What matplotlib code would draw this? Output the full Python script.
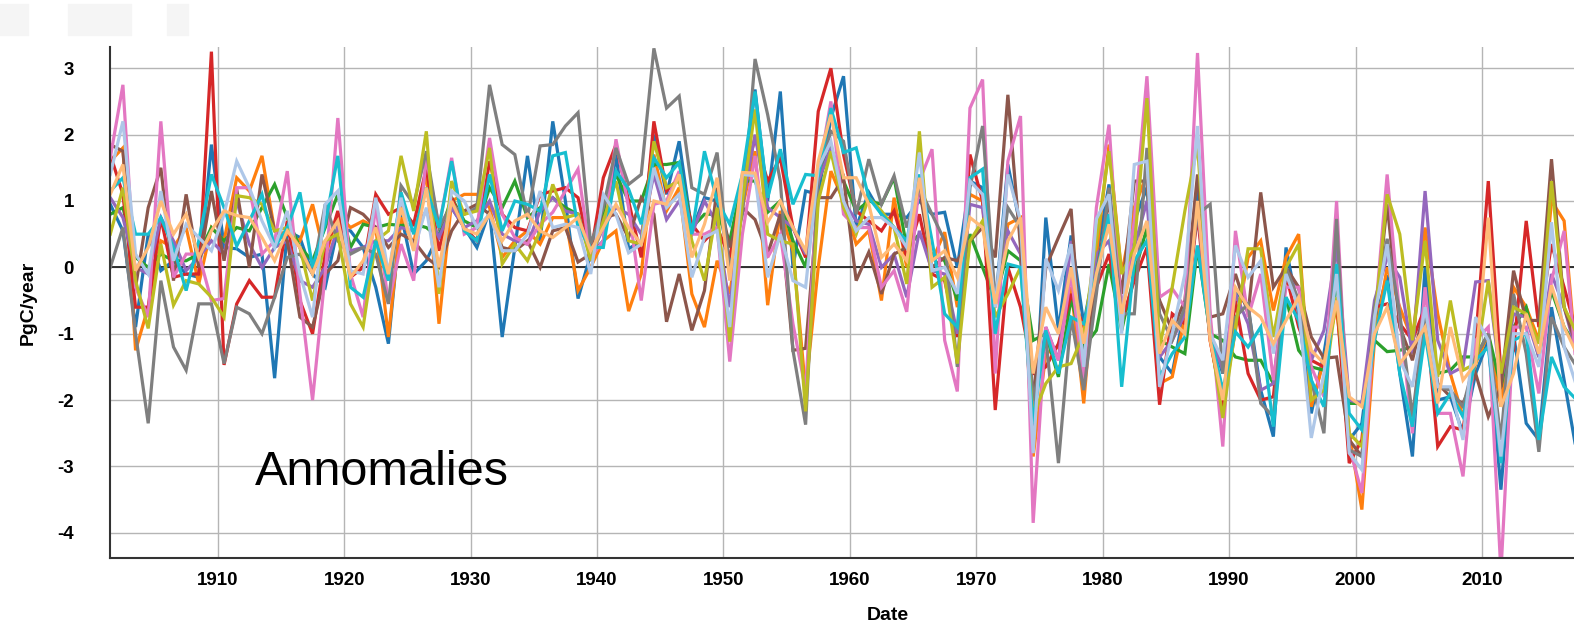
import matplotlib
matplotlib.use('Agg')
import matplotlib.pyplot as plt
from matplotlib.patches import Rectangle
import numpy as np

# Yearly carbon flux anomalies (PgC/year), one list per model, 1901-2017
years = np.arange(1901, 2018)

blue = [0.95, 0.55, -0.9, 0.5, -0.05, 0.1, -0.1, -0.15, 1.85, 0.3,
        0.28, 0.15, 0.2, -1.67, 0.55, 0.45, -0.1, -0.3, 0.6, 0.55,
        0.3, -0.3, -1.15, 0.8, -0.1, 0.1, 0.5, 0.9, 0.6, 0.3,
        0.85, -1.05, 0.3, 1.68, 0.4, 2.2, 1.0, -0.47, 0.2, 0.4,
        1.7, 0.28, 0.4, 2.0, 1.1, 1.9, 0.55, 1.05, 1.0, 0.1,
        1.1, 2.68, 1.0, 2.65, 0.0, 1.15, 1.1, 2.25, 2.88, 0.6,
        1.13, 0.8, 0.8, 0.75, 1.0, 0.8, 0.83, 0.0, 1.3, 1.2,
        -0.6, 1.55, 0.6, -2.7, 0.75, -0.95, 0.48, -0.85, 0.15, 1.25,
        -0.8, 0.7, 1.2, -1.35, -1.6, -0.6, 1.15, -1.0, -1.6, -0.35,
        -0.6, -1.85, -2.55, 0.3, -0.7, -2.2, -1.3, -0.1, -2.6, -2.35,
        -0.85, -0.12, -1.6, -2.85, 0.0, -2.0, -1.95, -2.5, -1.6, -1.1,
        -3.35, -1.0, -2.35, -2.6, -0.6, -1.7, -2.8]

orange = [1.6, 1.8, -1.25, -0.6, 0.4, 0.3, 0.6, -0.25, 0.6, 0.4,
          1.35, 1.15, 1.68, 0.55, 0.5, 0.4, 0.95, 0.15, 0.8, 0.6,
          0.7, 0.6, -1.05, 0.75, 0.35, 1.45, -0.85, 1.0, 1.1, 1.1,
          0.9, 0.15, 0.4, 0.55, 0.35, 0.75, 0.75, -0.35, 0.0, 0.4,
          0.55, -0.66, -0.1, 1.7, 0.85, 1.2, -0.4, -0.9, 0.1, -0.4,
          0.9, 1.75, -0.57, 0.85, 0.25, -1.85, 0.0, 1.45, 1.0, 0.35,
          0.55, -0.5, 1.05, 0.0, 1.3, 0.1, 0.53, -0.6, 1.1, 1.0,
          -0.6, 0.65, 0.75, -2.85, -1.3, -1.2, -0.3, -2.05, 0.2, 1.85,
          -0.1, 0.9, 1.4, -1.75, -1.65, -0.75, 1.0, -1.1, -2.1, -0.95,
          0.15, 0.4, -0.65, 0.15, 0.5, -2.1, -1.4, -0.6, -2.5, -3.65,
          -1.1, 0.0, -0.6, -1.1, 0.6, -0.7, -1.6, -2.25, -1.45, -1.0,
          -2.1, -0.3, -0.6, -1.1, 1.0, 0.7, -1.5]

green = [0.8, 0.9, 0.15, 0.0, 0.2, 0.1, 0.1, 0.2, 0.6, 0.4,
         0.6, 0.55, 0.9, 1.25, 0.75, 0.3, 0.1, 0.6, 1.1, 0.3,
         0.65, 0.6, 0.65, 0.63, 0.65, 0.6, 0.45, 1.05, 0.7, 0.6,
         1.2, 0.9, 1.3, 0.75, 0.9, 1.05, 0.9, 0.8, 0.2, 0.8,
         1.4, 1.0, 1.0, 1.55, 1.55, 1.58, 0.6, 0.8, 0.8, 0.4,
         1.3, 1.3, 0.83, 1.0, 0.4, 0.0, 1.3, 1.8, 1.3, 0.85,
         1.0, 0.95, 1.35, 0.3, 0.5, 0.2, 0.1, -0.5, 0.5, 0.0,
         -0.5, 0.25, 0.1, -1.1, -1.0, -1.65, -0.47, -1.2, -0.95, 0.05,
         -0.95, -0.1, 0.6, -1.1, -1.2, -1.3, 0.3, -1.0, -1.1, -1.35,
         -1.4, -1.4, -1.75, -0.45, -1.25, -1.5, -1.55, -0.2, -2.05, -2.05,
         -1.1, -1.27, -1.25, -1.2, -1.0, -1.6, -1.55, -1.35, -1.35, -1.0,
         -1.8, -0.9, -0.6, -1.35, -0.35, -0.9, -1.2]

red = [1.7, 1.1, -0.6, -0.6, 0.75, -0.15, -0.1, -0.1, 3.25, -1.47,
       -0.55, -0.2, -0.45, -0.45, 0.7, -0.5, -1.0, 0.2, 0.85, -0.15,
       0.0, 1.1, 0.8, 0.9, 0.65, 1.5, 0.25, 1.05, 0.6, 0.4,
       1.6, 0.8, 0.6, 0.55, 1.1, 1.15, 1.2, 1.05, 0.2, 1.35,
       1.85, 1.0, 0.15, 2.2, 1.15, 1.35, 0.65, 0.4, 0.6, 0.15,
       1.2, 1.95, 1.3, 1.65, 0.6, 0.15, 2.35, 3.0, 1.7, 0.85,
       0.7, 0.55, 0.85, 0.15, 0.8, -0.1, -0.2, -1.05, 1.7, 1.0,
       -2.15, 0.0, -0.6, -1.6, -1.5, -1.15, -0.4, -0.9, -0.3, 0.2,
       -0.8, -0.2, 0.3, -2.07, -0.7, -0.85, 0.8, -1.1, -2.1, -0.5,
       -1.6, -2.0, -1.95, -0.1, -0.9, -1.4, -1.5, -0.5, -2.95, -2.6,
       -0.6, -0.55, -0.85, -1.1, -0.6, -2.7, -2.4, -2.45, -1.1, 1.3,
       -1.6, -1.25, 0.7, -0.9, 0.35, -0.3, -1.0]

purple = [1.05, 0.75, 0.0, -0.1, 0.75, 0.4, -0.05, 0.15, 0.4, 0.2,
          1.0, 0.35, 0.0, 0.3, 0.4, -0.2, -0.3, 0.0, 0.6, 0.25,
          0.3, 0.4, 0.4, 0.6, 0.55, 0.85, 0.45, 0.9, 0.6, 0.7,
          1.0, 0.5, 0.4, 0.35, 0.85, 1.05, 0.85, 0.8, 0.15, 0.6,
          0.9, 0.8, 0.5, 1.4, 0.72, 1.0, 0.5, 1.0, 0.65, -0.6,
          0.95, 2.0, 0.9, 0.75, 0.6, 0.2, 1.3, 1.8, 1.0, 0.7,
          0.65, 0.0, 0.2, -0.45, 0.55, -0.05, -0.1, -1.0, 0.95, 0.9,
          -0.5, 0.55, 0.2, -2.2, -0.9, -1.4, 0.4, -1.5, 0.2, 0.4,
          -0.6, 0.3, 1.0, -1.35, -1.1, -0.7, 0.9, -1.0, -1.55, -0.4,
          -0.85, -1.85, -1.75, -0.05, -0.3, -1.4, -0.95, 0.3, -2.0, -2.05,
          -0.5, 0.15, -0.15, -1.3, 1.15, -1.1, -1.6, -1.5, -0.22, -0.2,
          -1.75, -0.7, -0.75, -1.35, -0.1, -0.6, -1.3]

brown = [1.85, 1.75, -0.3, 0.9, 1.5, -0.2, 1.1, 0.0, 1.15, 0.1,
         1.18, 0.0, 1.4, 0.55, 0.4, -0.75, -0.9, -0.1, 0.1, 0.9,
         0.8, 0.6, 0.3, 0.5, 0.4, 0.15, 0.0, 0.55, 0.85, 0.95,
         0.8, 0.3, 0.25, 0.4, 0.0, 0.55, 0.6, 0.08, 0.2, 0.75,
         0.8, 0.45, 1.05, 0.8, -0.82, -0.1, -0.95, -0.35, 1.2, 0.3,
         0.9, 0.72, 0.2, 0.8, -1.25, -1.22, 1.05, 1.05, 1.35, -0.2,
         0.23, -0.4, 0.2, 0.3, 1.2, 0.0, 0.15, 0.1, 0.4, 0.6,
         0.15, 2.6, 0.3, -2.0, 0.0, 0.45, 0.88, -1.8, -0.1, 1.0,
         -0.4, 1.3, 1.3, -0.5, -0.95, -0.5, 1.4, -0.75, -0.7, -0.1,
         -0.7, 1.13, -0.3, 0.0, -0.3, -1.05, -1.37, -1.35, -2.6, -2.85,
         -0.85, 0.95, -0.9, -1.4, -0.6, -1.75, -1.95, -2.05, -1.6, -2.25,
         -1.8, -0.05, -0.8, -0.8, 1.63, -0.6, -1.2]

pink = [1.65, 2.75, -0.3, -0.75, 2.2, -0.15, 0.2, 0.2, -0.5, -0.47,
        1.2, 1.2, 0.2, 0.4, 1.45, -0.4, -2.0, -0.1, 2.25, -0.1,
        -0.75, 0.95, -0.55, 0.35, -0.2, 1.65, 0.6, 1.65, 0.5, 0.6,
        1.95, 0.8, 0.45, 0.35, 0.65, 0.83, 1.15, 1.48, 0.15, 0.4,
        1.93, 0.9, -0.5, 0.95, 1.0, 1.45, 0.5, 0.5, 0.6, -1.42,
        0.5, 1.68, 0.15, 0.5, -0.85, -1.85, 1.4, 2.5, 0.8, 0.6,
        0.6, -0.3, -0.05, -0.67, 1.3, 1.78, -1.1, -1.87, 2.4, 2.83,
        -1.6, 1.6, 2.28, -3.85, -0.9, -1.4, -0.1, -1.7, 0.9, 2.15,
        -0.7, 0.7, 2.88, -0.45, -0.32, -0.6, 3.23, -0.7, -2.7, 0.55,
        -0.75, -0.1, -1.7, -0.3, -0.3, -1.5, -1.95, 1.0, -2.7, -3.4,
        -0.85, 1.4, -0.75, -2.5, -0.3, -2.2, -2.2, -3.15, -1.1, -0.9,
        -4.6, -0.9, -0.9, -1.9, -0.2, 0.55, -1.6]

gray = [0.0, 0.6, -1.0, -2.35, -0.2, -1.2, -1.55, -0.55, -0.55, -1.45,
        -0.6, -0.7, -1.0, -0.45, 0.15, 0.2, -0.1, 0.95, 0.4, 0.2,
        0.3, 0.2, -0.55, 1.23, 0.95, 1.75, 0.6, 0.95, 0.8, 0.9,
        2.75, 1.85, 1.7, 0.75, 1.83, 1.85, 2.13, 2.33, 0.35, 0.9,
        1.8, 1.25, 1.4, 3.3, 2.4, 2.58, 1.2, 1.1, 1.73, -0.05,
        0.8, 3.14, 2.3, 1.3, -1.25, -2.37, 1.4, 2.05, 1.9, 0.8,
        1.63, 0.95, 1.38, 0.6, 1.2, 0.8, 0.4, -1.5, 1.2, 2.13,
        -0.5, 0.9, 0.6, -2.0, -1.05, -2.95, -0.75, -1.85, -0.4, 1.2,
        -0.7, -0.7, 1.8, -0.7, -1.1, -0.6, 0.8, 0.95, -1.6, -0.75,
        -0.55, -2.05, -2.25, 0.0, -0.5, -1.7, -2.5, 0.73, -2.75, -2.85,
        -0.6, 0.43, -0.7, -2.25, -0.7, -1.8, -1.85, -2.1, -1.35, -1.0,
        -2.6, -0.4, -1.3, -2.78, -0.75, -1.2, -1.5]

olive = [0.5, 1.2, -0.2, -0.92, 0.35, -0.57, -0.2, -0.25, -0.45, -0.75,
         1.08, 1.05, 0.95, 0.55, 0.6, 0.3, -0.5, 0.4, 0.5, -0.55,
         -0.9, 0.4, 0.55, 1.68, 0.85, 2.05, -0.4, 1.3, 0.8, 0.85,
         1.8, 0.05, 0.35, 0.1, 0.55, 1.25, 0.75, 0.8, 0.1, 0.7,
         1.3, 0.4, 0.35, 1.9, 1.2, 1.3, 0.4, -0.2, 0.9, -1.12,
         1.0, 2.38, 0.5, 0.4, 0.35, -2.17, 1.0, 1.75, 0.9, 0.5,
         1.05, 0.85, 0.6, -0.25, 2.05, -0.3, -0.15, -1.45, 0.4, 0.7,
         -0.75, -0.4, 0.0, -2.25, -1.75, -1.5, -1.45, -1.0, 0.4, 1.75,
         -0.1, 0.3, 2.55, -1.2, -0.3, 0.85, 1.85, -1.0, -2.27, -0.9,
         0.28, 0.28, -1.05, 0.0, 0.35, -2.0, -1.85, -0.45, -2.5, -2.7,
         -0.85, 1.1, 0.5, -1.1, 0.4, -1.65, -0.5, -1.55, -1.45, -0.2,
         -1.6, -0.6, -0.7, -1.15, 1.3, -0.6, -1.0]

cyan = [1.15, 1.35, 0.5, 0.5, 0.75, 0.3, -0.35, 0.4, 1.4, 0.9,
        0.32, 0.7, 1.1, 0.3, 0.6, 1.13, 0.0, 0.65, 1.68, -0.3,
        -0.45, 0.4, -0.2, 1.13, 0.5, 1.2, 0.6, 1.6, 0.55, 0.4,
        1.4, 0.55, 1.0, 0.95, 0.85, 1.68, 1.73, 0.6, 0.3, 0.3,
        1.45, 1.18, 0.65, 1.65, 1.35, 1.58, 0.5, 1.75, 1.0, 0.65,
        1.4, 2.65, 1.05, 1.78, 0.95, 1.4, 1.38, 2.4, 1.73, 1.8,
        1.05, 0.8, 0.6, 0.4, 1.4, 0.4, -0.7, -0.9, 1.35, 1.48,
        -1.0, 0.05, 0.0, -2.35, -0.95, -1.6, -0.75, -0.85, -0.1, 0.8,
        -1.8, 0.1, 0.4, -1.65, -1.3, -1.05, 0.33, -1.0, -1.85, -0.97,
        -1.2, -0.9, -2.4, -0.45, -0.8, -1.7, -2.1, 0.05, -2.2, -2.45,
        -1.1, -0.2, -1.6, -2.4, -1.0, -2.2, -1.9, -2.25, -1.4, -1.2,
        -2.95, -1.1, -1.0, -2.6, -1.35, -1.8, -2.0]

light_blue = [1.4, 2.2, 0.2, -0.1, 1.15, 0.1, 0.65, 0.45, 0.25, 0.8,
              1.6, 1.2, 0.7, 0.3, 0.85, -0.1, -0.75, 0.95, 1.15, -0.05,
              -0.1, 1.05, -0.1, 1.05, 0.25, 0.9, -0.3, 1.15, 1.0, 0.6,
              0.8, 0.25, 0.25, 0.5, 1.15, 0.6, 0.65, 0.6, -0.1, 1.1,
              0.8, 0.22, 0.35, 1.5, 0.9, 1.1, -0.15, 0.45, 0.55, -0.9,
              1.4, 1.38, -0.15, 0.5, -0.2, -0.3, 1.5, 1.9, 1.0, 0.55,
              0.75, 0.75, 0.6, 0.3, 1.73, -0.05, 0.0, -0.4, 1.3, 1.1,
              -0.6, 1.4, 0.7, -2.8, 0.13, -0.35, 0.35, -1.5, 0.73, 1.1,
              -1.0, 1.55, 1.6, -1.8, -1.0, -0.1, 2.13, -1.0, -1.4, 0.33,
              -0.15, 0.1, -1.3, -0.1, -0.6, -2.57, -1.6, -0.1, -2.8, -3.05,
              -0.75, 0.35, -1.4, -1.8, -0.6, -1.8, -1.8, -2.6, -0.75, -1.1,
              -2.85, -1.0, -1.0, -1.5, 0.68, -1.2, -1.8]

light_orange = [1.1, 1.55, -0.05, 0.3, 1.0, 0.5, 0.8, 0.15, 0.55, 0.85,
                0.78, 0.75, 0.45, 0.1, 0.55, 0.3, -0.1, 0.4, 0.7, -0.15,
                0.1, 0.6, -0.1, 0.9, 0.25, 1.2, 0.0, 1.0, 0.58, 0.5,
                0.8, 0.4, 0.7, 0.8, 0.55, 0.45, 0.6, 0.75, 0.25, 0.6,
                0.95, 0.6, 0.35, 1.0, 0.95, 1.4, 0.15, 0.65, 1.35, -0.2,
                1.43, 1.42, 0.68, 1.0, 0.6, 0.25, 1.6, 2.3, 1.35, 1.35,
                0.95, 0.15, 0.35, 0.1, 1.35, 0.1, 0.25, -0.15, 0.75, 0.6,
                -0.55, 0.4, 0.75, -1.6, -0.6, -1.0, 0.0, -1.15, -0.1, 0.65,
                -0.7, 0.2, 0.7, -1.3, -0.8, -1.0, 1.0, -1.1, -2.0, -0.3,
                -0.6, -0.75, -1.15, -0.8, -0.45, -1.25, -1.45, -0.5, -1.95, -2.1,
                -1.0, -0.6, -1.45, -1.2, -0.9, -2.05, -0.9, -1.7, -1.45, 0.75,
                -2.1, -1.6, -0.7, -1.3, -0.27, -0.9, -1.3]

series = [blue, orange, green, red, purple, brown, pink, gray, olive, cyan,
          light_blue, light_orange]
colors = ['#1f77b4', '#ff7f0e', '#2ca02c', '#d62728', '#9467bd', '#8c564b',
          '#e377c2', '#7f7f7f', '#bcbd22', '#17becf', '#aec7e8', '#ffbb78']

plt.rcParams['font.family'] = ['Liberation Sans', 'DejaVu Sans']
plt.rcParams['axes.unicode_minus'] = False

fig = plt.figure(figsize=(15.74, 6.27), dpi=100)
ax = fig.add_axes([0.0699, 0.110, 0.9301, 0.815])

# faint grey blocks left over at the top of the screenshot
for x0, w in [(0, 28), (68, 63), (167, 21)]:
    fig.patches.append(Rectangle((x0 / 1574, 1 - 35 / 627), w / 1574, 31 / 627,
                                 transform=fig.transFigure, color='#f5f5f5',
                                 zorder=0))

# points sit in the middle of each year
x = years + 0.5
for values, c in zip(series, colors):
    ax.plot(x, values, color=c, lw=2.3, solid_joinstyle='miter')

ax.axhline(0, color='#222222', lw=1.3, zorder=1)

ax.set_xlim(1901.48, 2017.28)
ax.set_ylim(-4.38, 3.32)
ax.set_xticks(np.arange(1910, 2020, 10))
ax.set_yticks(np.arange(-4, 4, 1))
ax.grid(True, color='#b5b5b5', lw=1.0)
ax.set_axisbelow(True)

for s in ['top', 'right']:
    ax.spines[s].set_visible(False)
for s in ['left', 'bottom']:
    ax.spines[s].set_color('#333333')
    ax.spines[s].set_linewidth(1.5)

ax.tick_params(axis='y', length=0, pad=26, labelsize=13.5)
ax.tick_params(axis='x', length=0, pad=10, labelsize=13.5)
for lab in ax.get_xticklabels() + ax.get_yticklabels():
    lab.set_fontweight('bold')

ax.set_xlabel('Date', fontsize=14, fontweight='bold')
ax.set_ylabel('PgC/year', fontsize=14, fontweight='bold')
ax.xaxis.set_label_coords(0.531, -0.095)
ax.yaxis.set_label_coords(-0.05, 0.5)

ax.text(1912.95, -3.28, 'Annomalies', fontsize=35, va='baseline', ha='left')

fig.savefig('out.png', dpi=100)
